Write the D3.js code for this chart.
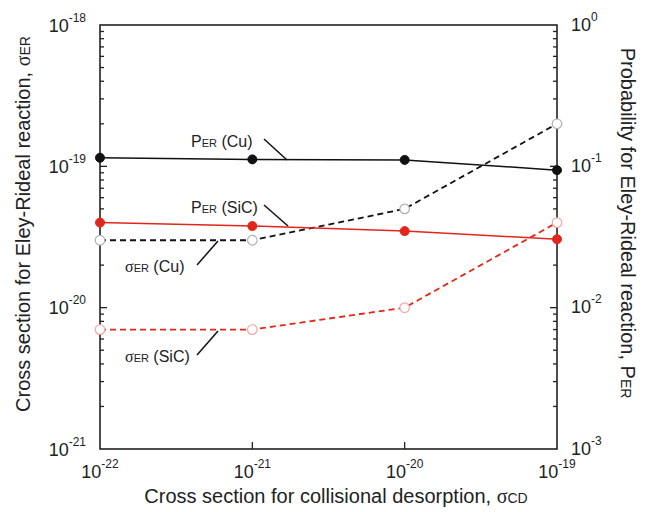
<!DOCTYPE html>
<html>
<head>
<meta charset="utf-8">
<script src="https://cdn.jsdelivr.net/npm/d3@7"></script>
<style>
  html, body { margin: 0; padding: 0; background: #fff; }
  svg { display: block; font-family: "Liberation Sans", Arial, sans-serif; }
</style>
</head>
<body>
<svg id="chart" width="651" height="512"></svg>
<script>
// Collisional desorption cross section (x values)
const sigmaCD = [1e-22, 1e-21, 1e-20, 1e-19];
// Eley-Rideal probability, right axis
const perCu  = [0.115, 0.112, 0.111, 0.094];
const perSiC = [0.040, 0.0378, 0.0348, 0.0305];
// Eley-Rideal cross section, left axis
const sigmaCu  = [3e-20, 3e-20, 5e-20, 2e-19];
const sigmaSiC = [7e-21, 7e-21, 1e-20, 4e-20];
// Tick labels (exponents of 10)
const xTickExp = [-22, -21, -20, -19];
const yLeftExp = [-21, -20, -19, -18];
const yRightExp = [-3, -2, -1, 0];

const svg = d3.select("#chart");
const L = 100, R = 557, T = 25, B = 449;
const RED = "#e3261b";

const x = d3.scaleLog().domain([1e-22, 1e-19]).range([L, R]);
const yL = d3.scaleLog().domain([1e-21, 1e-18]).range([B, T]);
const yR = d3.scaleLog().domain([1e-3, 1]).range([B, T]);

const axisColor = "#222";

// Plot frame
svg.append("rect").attr("x", L).attr("y", T).attr("width", R - L).attr("height", B - T)
  .attr("fill", "none").attr("stroke", axisColor).attr("stroke-width", 1.6);

// Inward ticks on the left and right log axes
function isMajor(v) { return Math.abs(Math.log10(v) - Math.round(Math.log10(v))) < 1e-9; }
const leftTicks = yL.ticks().filter(v => v > 1e-21 && v < 1e-18);
svg.append("g").selectAll("line").data(leftTicks).join("line")
  .attr("x1", L).attr("x2", d => L + (isMajor(d) ? 7 : 4))
  .attr("y1", d => yL(d)).attr("y2", d => yL(d))
  .attr("stroke", axisColor).attr("stroke-width", 1.3);
const rightTicks = yR.ticks().filter(v => v > 1e-3 && v < 1);
svg.append("g").selectAll("line").data(rightTicks).join("line")
  .attr("x1", R).attr("x2", d => R - (isMajor(d) ? 7 : 4))
  .attr("y1", d => yR(d)).attr("y2", d => yR(d))
  .attr("stroke", axisColor).attr("stroke-width", 1.3);
// Bottom major ticks only
svg.append("g").selectAll("line").data(xTickExp.slice(1, -1)).join("line")
  .attr("x1", d => x(Math.pow(10, d))).attr("x2", d => x(Math.pow(10, d)))
  .attr("y1", B).attr("y2", B - 7)
  .attr("stroke", axisColor).attr("stroke-width", 1.3);

// Power-of-ten label helper
function powLabel(g, e, px, py, anchor) {
  const t = g.append("text").attr("x", px).attr("y", py)
    .attr("text-anchor", anchor).attr("fill", "#222");
  t.append("tspan").attr("font-size", 18).text("10");
  t.append("tspan").attr("font-size", 12).attr("dy", -10).text(e);
  return t;
}
const labels = svg.append("g");
xTickExp.forEach(e => powLabel(labels, e, x(Math.pow(10, e)), 478, "middle"));
yLeftExp.forEach(e => powLabel(labels, e, 86, yL(Math.pow(10, e)) + 6.5, "end"));
yRightExp.forEach(e => powLabel(labels, e, 571, yR(Math.pow(10, e)) + 5.5, "start"));

// Axis titles
const bt = svg.append("text").attr("x", 336).attr("y", 503).attr("text-anchor", "middle")
  .attr("font-size", 20).attr("fill", "#222");
bt.append("tspan").text("Cross section for collisional desorption, ");
bt.append("tspan").attr("font-family", "Liberation Serif").text("σ");
bt.append("tspan").attr("font-size", 14).text("CD");

const lt = svg.append("text").attr("transform", "translate(30,224) rotate(-90)")
  .attr("text-anchor", "middle").attr("font-size", 20).attr("fill", "#222");
lt.append("tspan").text("Cross section for Eley-Rideal reaction, ");
lt.append("tspan").attr("font-family", "Liberation Serif").text("σ");
lt.append("tspan").attr("font-size", 14).text("ER");

const rt = svg.append("text").attr("transform", "translate(621,223) rotate(90)")
  .attr("text-anchor", "middle").attr("font-size", 20).attr("fill", "#222");
rt.append("tspan").text("Probability for Eley-Rideal reaction, P");
rt.append("tspan").attr("font-size", 14).text("ER");

// Series
const series = [
  { v: sigmaCu,  y: yL, color: "#111", dash: "6,4", open: true,  ring: "#b0b0b0", w: 1.8 },
  { v: sigmaSiC, y: yL, color: RED,    dash: "6,4", open: true,  ring: "#f2a7a2", w: 1.8 },
  { v: perCu,    y: yR, color: "#111", dash: null,  open: false, ring: "#111",    w: 1.5 },
  { v: perSiC,   y: yR, color: RED,    dash: null,  open: false, ring: RED,       w: 1.5 }
];
series.forEach(s => {
  const pts = sigmaCD.map((c, i) => [x(c), s.y(s.v[i])]);
  svg.append("path").attr("d", d3.line()(pts)).attr("fill", "none")
    .attr("stroke", s.color).attr("stroke-width", s.w)
    .attr("stroke-dasharray", s.dash);
  svg.append("g").selectAll("circle").data(pts).join("circle")
    .attr("cx", d => d[0]).attr("cy", d => d[1])
    .attr("r", s.open ? 4.8 : 4.5)
    .attr("fill", s.open ? "#fff" : s.color)
    .attr("stroke", s.ring).attr("stroke-width", s.open ? 1.2 : 1);
});

// Curve annotations with leader lines
function annot(sym, sub, tx, ty, lx1, ly1, lx2, ly2, serif) {
  const t = svg.append("text").attr("x", tx).attr("y", ty).attr("font-size", 16).attr("fill", "#222");
  t.append("tspan").attr("font-family", serif ? "Liberation Serif" : null).text(sym);
  t.append("tspan").attr("font-size", 11).text("ER");
  t.append("tspan").text(" " + sub);
  svg.append("line").attr("x1", lx1).attr("y1", ly1).attr("x2", lx2).attr("y2", ly2)
    .attr("stroke", "#111").attr("stroke-width", 1.5);
}
annot("P", "(Cu)", 191, 147, 264, 139, 287, 160, false);
annot("P", "(SiC)", 191, 213, 264, 205, 288, 226, false);
annot("σ", "(Cu)", 125, 272, 197, 265, 218, 241, true);
annot("σ", "(SiC)", 125, 362, 197, 355, 218, 331, true);
</script>
</body>
</html>
